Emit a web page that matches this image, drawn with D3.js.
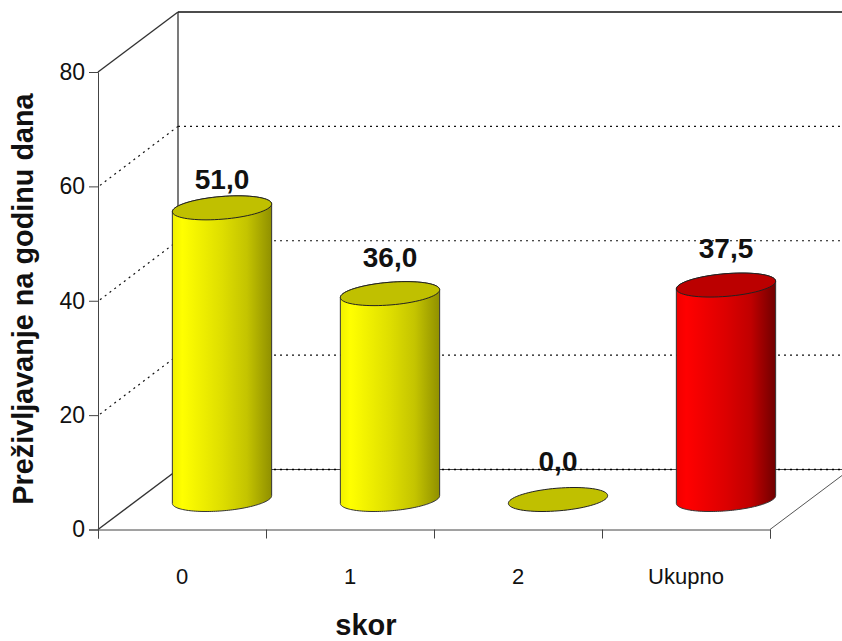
<!DOCTYPE html>
<html>
<head>
<meta charset="utf-8">
<script src="https://cdn.jsdelivr.net/npm/d3@7"></script>
<style>
html,body{margin:0;padding:0;background:#fff}
svg{display:block}
text{font-family:"Liberation Sans",Arial,sans-serif;fill:#111}
</style>
</head>
<body>
<svg id="chart" width="842" height="641"></svg>
<script>
const categories = ["0", "1", "2", "Ukupno"];
const survival = [51.0, 36.0, 0.0, 37.5];
const valueLabels = ["51,0", "36,0", "0,0", "37,5"];
const yTicks = [0, 20, 40, 60, 80];
const gridTicks = [20, 40, 60];
const yTitle = "Preživljavanje na godinu dana";
const xTitle = "skor";

// Layout of the oblique box
const frontLeft = 98, frontRight = 770, frontBase = 529.5, frontTop = 72;
const depthX = 80, depthY = -60;
const labelLift = [19, 27, 29, 27];

const svg = d3.select("#chart");
const x = d3.scaleBand().domain(categories).range([frontLeft, frontRight]);
const y = d3.scaleLinear().domain([0, 80]).range([frontBase, frontTop]);

const defs = svg.append("defs");
function sideGradient(id, stops) {
  const g = defs.append("linearGradient").attr("id", id);
  stops.forEach(([o, c]) => g.append("stop").attr("offset", o).attr("stop-color", c));
}
sideGradient("sideYellow", [[0, "#f0f000"], [0.1, "#ffff00"], [0.5, "#dede00"], [0.75, "#c4c400"], [1, "#909000"]]);
sideGradient("sideRed", [[0, "#f00000"], [0.1, "#ff0000"], [0.5, "#dc0000"], [0.75, "#c00000"], [1, "#700000"]]);

// Walls and floor
const walls = svg.append("g").attr("fill", "none");
const dotted = "2 4";
const backX0 = frontLeft + depthX;
const backBase = y(0) + depthY;

gridTicks.forEach(t => {
  const yy = y(t);
  walls.append("line").attr("x1", frontLeft + 2).attr("y1", yy - 1).attr("x2", backX0).attr("y2", yy + depthY)
    .attr("stroke", "#111").attr("stroke-width", 1.2).attr("stroke-dasharray", dotted);
  walls.append("line").attr("x1", backX0).attr("y1", yy + depthY).attr("x2", 842).attr("y2", yy + depthY)
    .attr("stroke", "#111").attr("stroke-width", 1.2).attr("stroke-dasharray", dotted);
});

const solid = (x1, y1, x2, y2, col, w) => walls.append("line")
  .attr("x1", x1).attr("y1", y1).attr("x2", x2).attr("y2", y2)
  .attr("stroke", col).attr("stroke-width", w || 1);

// Back wall frame
solid(backX0, y(80) + depthY, 842, y(80) + depthY, "#111", 1.5);
solid(backX0, y(80) + depthY, backX0, backBase, "#222", 1.2);
solid(backX0, backBase, 842, backBase, "#444", 1);
walls.append("line").attr("x1", backX0).attr("y1", backBase).attr("x2", 842).attr("y2", backBase)
  .attr("stroke", "#000").attr("stroke-dasharray", dotted).attr("stroke-width", 1.4);
// Side wall diagonals and floor edge
solid(frontLeft, y(80), backX0, y(80) + depthY, "#333", 1.4);
solid(frontLeft, y(0), backX0, backBase, "#333", 1.4);
solid(frontRight, y(0), frontRight + depthX, backBase, "#555", 1);

// Axes on the front edge
const yAxis = d3.axisLeft(y).tickValues(yTicks).tickSize(9).tickPadding(4);
const yG = svg.append("g").attr("transform", `translate(${frontLeft},0)`).call(yAxis);
yG.selectAll("path,line").attr("stroke", "#444");
yG.selectAll("text").attr("font-size", 23).attr("font-family", '"Liberation Sans",Arial,sans-serif').attr("fill", "#111");

const xAxisScale = d3.scaleLinear().domain([0, categories.length]).range([frontLeft, frontRight]);
const xG = svg.append("g").attr("transform", `translate(0,${y(0)})`)
  .call(d3.axisBottom(xAxisScale).tickValues(d3.range(categories.length + 1)).tickSize(9).tickFormat(""));
xG.selectAll("path,line").attr("stroke", "#444");

svg.append("g").selectAll("text").data(categories).join("text")
  .attr("x", d => x(d) + x.bandwidth() / 2)
  .attr("y", 584)
  .attr("text-anchor", "middle")
  .attr("font-size", 22)
  .text(d => d);

// Cylinders: a floor circle projected along the depth direction
const halfDepthX = 16, halfDepthY = -12, radiusX = 47;
const rimPoint = (cx, cy, t) => [
  cx + radiusX * Math.cos(t) + halfDepthX * Math.sin(t),
  cy + halfDepthY * Math.sin(t)
];
const tRight = Math.atan2(halfDepthX, radiusX);
const tLeft = tRight + Math.PI;
const steps = d3.range(0, 73).map(i => i / 72);
const line = d3.line();

const bars = svg.append("g").selectAll("g").data(categories).join("g");
bars.each(function (cat, i) {
  const g = d3.select(this);
  const cx = x(cat) + x.bandwidth() / 2 + depthX / 2;
  const baseY = y(0) + depthY / 2;
  const topY = baseY - (y(0) - y(survival[i]));
  const isTotal = cat === "Ukupno";
  const capFill = isTotal ? "#bb0000" : "#c0c000";
  if (survival[i] > 0) {
    // lower rim runs from the right extreme through the front to the left extreme
    const lower = steps.map(s => rimPoint(cx, baseY, tRight - s * Math.PI));
    const upper = steps.map(s => rimPoint(cx, topY, tLeft - s * Math.PI));
    g.append("path")
      .attr("d", line(lower.concat(upper)) + "Z")
      .attr("fill", `url(#${isTotal ? "sideRed" : "sideYellow"})`)
      .attr("stroke", "#333").attr("stroke-width", 1);
  }
  const cap = steps.map(s => rimPoint(cx, topY, s * 2 * Math.PI));
  g.append("path").attr("d", line(cap) + "Z")
    .attr("fill", capFill).attr("stroke", "#222").attr("stroke-width", 1);
  g.append("text")
    .attr("x", cx).attr("y", topY - labelLift[i])
    .attr("text-anchor", "middle")
    .attr("font-size", 28).attr("font-weight", "bold")
    .text(valueLabels[i]);
});

// Axis titles
svg.append("text").attr("transform", "translate(33,299) rotate(-90)")
  .attr("text-anchor", "middle").attr("font-size", 28.8).attr("font-weight", "bold").text(yTitle);
svg.append("text").attr("x", 366).attr("y", 634.5)
  .attr("text-anchor", "middle").attr("font-size", 29).attr("font-weight", "bold").text(xTitle);
</script>
</body>
</html>
